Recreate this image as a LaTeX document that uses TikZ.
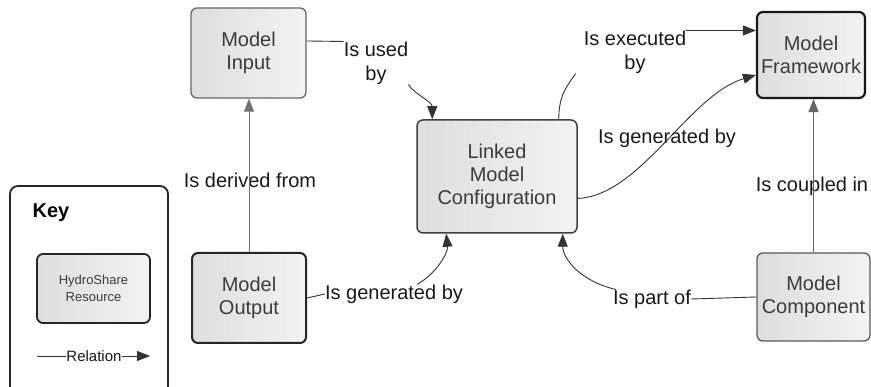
\documentclass[tikz,border=0pt]{standalone}
\usepackage{fontspec}
\setmainfont{Liberation Sans}
\usetikzlibrary{arrows.meta}
\definecolor{boxtext}{HTML}{3C3C3C}
\definecolor{edge}{HTML}{333333}

\begin{document}
\begin{tikzpicture}[x=1pt,y=-1pt,
  box/.style={draw=#1,rounded corners=6pt,left color=black!13,right color=black!5,
    align=center,text=boxtext,font=\fontsize{20}{23}\selectfont,inner sep=0pt},
  rel/.style={draw=edge,line width=0.9pt},
  tip/.style={-{Triangle[length=13pt,width=10pt]}},
  lbl/.style={align=center,text=black!90,font=\fontsize{20}{24}\selectfont,inner sep=0pt}]
\clip (0,0) rectangle (871,387);

\node[box=black!60,line width=1.3pt,minimum width=115pt,minimum height=90pt] (input) at (248.5,53) {Model\\Input};
\node[box=black!85,line width=2pt,minimum width=114pt,minimum height=90pt] (output) at (249,298) {Model\\Output};
\node[box=black!75,line width=1.5pt,minimum width=160pt,minimum height=113pt] (linked) at (497,176.5) {Linked\\Model\\Configuration};
\node[box=black!90,line width=2.2pt,minimum width=108pt,minimum height=86pt] (frame) at (811,55) {Model\\Framework};
\node[box=black!65,line width=1.3pt,minimum width=113pt,minimum height=88pt] (comp) at (813.5,297) {Model\\Component};

\node[lbl] (lderived) at (250,180) {Is derived from};
\node[lbl] (lused) at (376,63) {Is used\\by};
\node[lbl] (lexec) at (635,52) {Is executed\\by};
\node[lbl] (lgenB) at (667,138) {Is generated by};
\node[lbl] (lcoupled) at (812,186) {Is coupled in};
\node[lbl] (lgenA) at (394,294) {Is generated by};
\node[lbl] (lpart) at (652,299) {Is part of};

\draw[rel,draw=black!55,tip] (output.north) -- (output.north |- input.south);
\draw[rel] ([yshift=12pt]input.east) -- (lused.north west);
\draw[rel,tip] (lused.south east) .. controls +(6,10) and +(0,-18) .. ([xshift=16pt]linked.north west);
\draw[rel] ([xshift=-19pt]linked.north east) .. controls +(0,-25) and +(-8,12) .. ([xshift=-8pt]lexec.south west);
\draw[rel,tip] (lexec.north east) -- (lexec.north east -| frame.west);
\draw[rel,tip] ([yshift=-22pt]linked.east) .. controls +(63,-3) and +(-67,20) .. ([yshift=-20pt]frame.west);
\draw[rel,draw=black!60,tip] (comp.north) -- (comp.north |- frame.south);
\draw[rel] (output.east) -- (lgenA.west);
\draw[rel,tip] ([xshift=23pt]lgenA.north) .. controls +(18,-10) and +(2,20) .. ([xshift=30pt]linked.south west);
\draw[rel] (comp.west) -- (lpart.east);
\draw[rel,tip] ([xshift=3pt]lpart.north west) .. controls +(-35,-8) and +(0,25) .. ([xshift=-15pt]linked.south east);

\node[draw=black!85,line width=1.8pt,rounded corners=8pt,minimum width=158pt,minimum height=214pt,inner sep=0pt] (key) at (89,293) {};
\node[font=\fontsize{20}{24}\bfseries\selectfont,inner sep=0pt] (keytitle) at (51,213) {Key};
\node[box=black!85,line width=1.8pt,minimum width=113pt,minimum height=69pt,font=\fontsize{13}{17}\selectfont] (resource) at (93.5,288.5) {HydroShare\\Resource};
\node[lbl,font=\fontsize{15}{17}\selectfont] (lrel) at (94,356) {Relation};
\coordinate (relA) at (37,356);
\coordinate (relB) at (150,356);
\draw[rel] (relA) -- (lrel.west);
\draw[rel,tip] (lrel.east) -- (relB);
\end{tikzpicture}
\end{document}
